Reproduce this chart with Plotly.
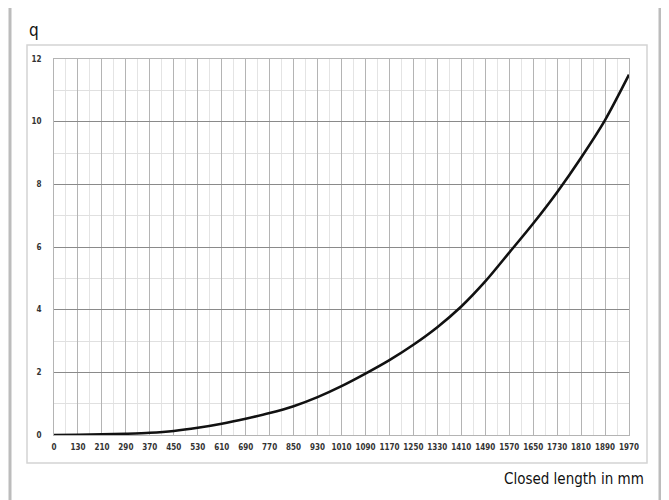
import plotly.graph_objects as go

lengths = ["0", "130", "210", "290", "370", "450", "530", "610", "690", "770",
           "850", "930", "1010", "1090", "1170", "1250", "1330", "1410", "1490",
           "1570", "1650", "1730", "1810", "1890", "1970"]
q_values = [0, 0.01, 0.02, 0.04, 0.07, 0.13, 0.23, 0.36, 0.52, 0.7,
            0.92, 1.21, 1.56, 1.96, 2.39, 2.88, 3.44, 4.1, 4.9,
            5.82, 6.75, 7.75, 8.85, 10.05, 11.5]
y_ticks = [0, 2, 4, 6, 8, 10, 12]

idx = list(range(len(lengths)))

# page has an 8px body margin; work in window pixels and shift
OFF = 8
W, H = 669 - OFF, 500 - OFF
L, R, T, B = 54 - OFF, 629 - OFF, 59 - OFF, 435 - OFF
def px(p):
    return (p - OFF - L) / (R - L)
def py(p):
    return (B - (p - OFF)) / (B - T)

fig = go.Figure()
fig.add_trace(go.Scatter(x=idx, y=q_values, mode="lines",
                         line=dict(color="#111111", width=2.6, shape="spline", smoothing=0.8),
                         hoverinfo="skip"))

tick_font = dict(family="DejaVu Sans Condensed, DejaVu Sans", size=8, color="#333333", weight="bold")
fig.update_xaxes(range=[0, len(lengths) - 1], tickmode="array", tickvals=idx, ticktext=lengths,
                 showgrid=True, gridcolor="#b4b4b4", gridwidth=1,
                 minor=dict(dtick=0.5, tick0=0, showgrid=True, gridcolor="#e4e4e4", gridwidth=1),
                 zeroline=False, showline=True, linecolor="#b4b4b4", mirror=True,
                 ticks="outside", ticklen=4, tickcolor="rgba(0,0,0,0)",
                 tickfont=tick_font, fixedrange=True)
fig.update_yaxes(range=[0, 12], tickmode="array", tickvals=y_ticks,
                 showgrid=True, gridcolor="#8a8a8a", gridwidth=1,
                 minor=dict(dtick=1, tick0=0, showgrid=True, gridcolor="#e0e0e0", gridwidth=1),
                 zeroline=False, showline=True, linecolor="#b4b4b4", mirror=True,
                 ticks="outside", ticklen=10, tickcolor="rgba(0,0,0,0)",
                 tickfont=tick_font, fixedrange=True)

shapes = [
    # outer frame
    dict(type="rect", xref="paper", yref="paper", x0=px(10), x1=px(660), y0=py(520), y1=py(5),
         line=dict(color="#bcbcbc", width=3), layer="below"),
    # inner chart frame
    dict(type="rect", xref="paper", yref="paper", x0=px(27), x1=px(647), y0=py(463), y1=py(45),
         line=dict(color="#d4d4d4", width=1.5), layer="below"),
]

label_font = "DejaVu Sans Condensed, DejaVu Sans"
annotations = [
    dict(text="q", xref="paper", yref="paper", x=px(27), y=py(30), xanchor="left", yanchor="middle",
         showarrow=False, font=dict(family=label_font, size=17, color="#111111")),
    dict(text="Closed length in mm", xref="paper", yref="paper", x=px(646), y=py(479),
         xanchor="right", yanchor="middle", showarrow=False,
         font=dict(family=label_font, size=15, color="#111111")),
]

fig.update_layout(width=W, height=H, margin=dict(l=L, r=W - R, t=T, b=H - B),
                  paper_bgcolor="white", plot_bgcolor="white", showlegend=False,
                  shapes=shapes, annotations=annotations)

fig.write_html("out.html")
